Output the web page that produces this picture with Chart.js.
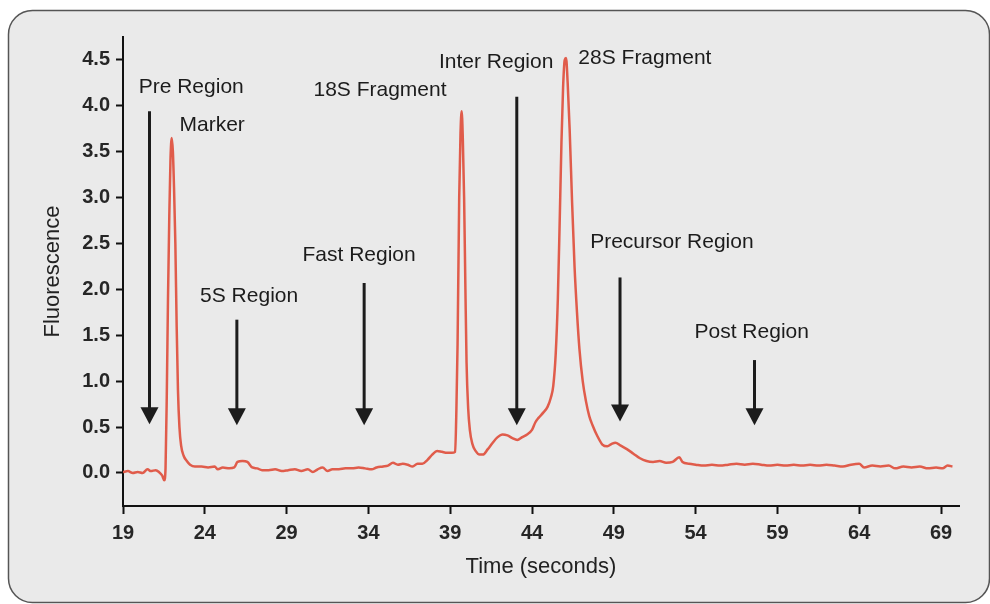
<!DOCTYPE html>
<html>
<head>
<meta charset="utf-8">
<script src="https://cdn.jsdelivr.net/npm/chart.js@4"></script>
<style>
  body { margin: 0; background: #fff; }
  canvas { display: block; }
</style>
</head>
<body>
<canvas id="trace" width="990" height="604"></canvas>
<script>
// electropherogram trace
const times = [
  19.0, 19.3, 19.6, 19.9, 20.2, 20.5, 20.7, 21.0, 21.2, 21.4, 21.52, 21.6, 21.68, 21.75, 21.83, 21.9, 21.98,
  22.05, 22.12, 22.2, 22.28, 22.36, 22.45, 22.55, 22.7, 22.9, 23.1, 23.4, 23.8, 24.2, 24.6, 24.8, 25.1, 25.5,
  25.8, 26.0, 26.3, 26.6, 26.9, 27.2, 27.5, 27.9, 28.3, 28.7, 29.1, 29.5, 29.9, 30.3, 30.6, 30.9, 31.2, 31.5,
  31.8, 32.2, 32.6, 33.0, 33.4, 33.8, 34.2, 34.5, 34.9, 35.2, 35.5, 35.8, 36.1, 36.4, 36.7, 37.0, 37.3, 37.6,
  37.9, 38.2, 38.5, 38.8, 39.1, 39.3, 39.38, 39.45, 39.55, 39.63, 39.7, 39.77, 39.85, 39.93, 40.0, 40.1, 40.2,
  40.35, 40.55, 40.8, 41.0, 41.3, 41.6, 41.9, 42.2, 42.5, 42.8, 43.1, 43.4, 43.7, 44.0, 44.2, 44.4, 44.7, 44.95,
  45.15, 45.3, 45.45, 45.58, 45.7, 45.8, 45.9, 46.0, 46.08, 46.18, 46.3, 46.45, 46.6, 46.75, 46.9, 47.1, 47.3,
  47.5, 47.7, 48.0, 48.3, 48.6, 48.9, 49.1, 49.4, 49.8, 50.2, 50.6, 51.0, 51.4, 51.8, 52.2, 52.6, 53.0, 53.2,
  53.6, 54.0, 54.5, 55.0, 55.5, 56.0, 56.5, 57.0, 57.5, 58.0, 58.5, 59.0, 59.5, 60.0, 60.5, 61.0, 61.5, 62.0,
  62.5, 63.0, 63.5, 64.0, 64.3, 64.8, 65.3, 65.8, 66.2, 66.7, 67.2, 67.7, 68.2, 68.7, 69.1, 69.4, 69.7
]
const fluorescence = [
  0.01, 0.02, 0.00, 0.01, 0.00, 0.04, 0.02, 0.03, 0.01, -0.03, -0.08, 0.05, 0.9, 1.9, 2.8, 3.4, 3.65,
  3.5, 3.1, 2.5, 1.6, 0.9, 0.5, 0.3, 0.19, 0.13, 0.09, 0.07, 0.07, 0.06, 0.07, 0.04, 0.06, 0.05,
  0.06, 0.12, 0.13, 0.12, 0.06, 0.05, 0.03, 0.03, 0.04, 0.02, 0.03, 0.04, 0.02, 0.04, 0.01, 0.04, 0.06, 0.02,
  0.04, 0.04, 0.05, 0.05, 0.06, 0.05, 0.04, 0.06, 0.07, 0.08, 0.11, 0.09, 0.10, 0.09, 0.07, 0.10, 0.10, 0.14,
  0.20, 0.24, 0.23, 0.22, 0.22, 0.23, 0.7, 1.4, 3.0, 3.7, 3.94, 3.65, 3.0, 2.0, 1.2, 0.7, 0.47,
  0.32, 0.24, 0.20, 0.20, 0.26, 0.33, 0.39, 0.42, 0.41, 0.38, 0.36, 0.39, 0.42, 0.47, 0.55, 0.60, 0.66, 0.72,
  0.82, 0.95, 1.3, 1.9, 2.8, 3.6, 4.2, 4.5, 4.52, 4.25, 3.75, 2.95, 2.25, 1.75, 1.35, 1.0, 0.78,
  0.62, 0.52, 0.40, 0.31, 0.29, 0.32, 0.33, 0.30, 0.26, 0.21, 0.16, 0.13, 0.12, 0.13, 0.11, 0.12, 0.17, 0.12,
  0.10, 0.09, 0.08, 0.09, 0.08, 0.09, 0.10, 0.09, 0.10, 0.09, 0.08, 0.09, 0.08, 0.09, 0.08, 0.09, 0.08, 0.09,
  0.08, 0.07, 0.09, 0.10, 0.06, 0.08, 0.07, 0.08, 0.05, 0.07, 0.06, 0.07, 0.05, 0.06, 0.05, 0.08, 0.07
]

const xTicks = [19, 24, 29, 34, 39, 44, 49, 54, 59, 64, 69]
const yTicks = [0, 0.5, 1, 1.5, 2, 2.5, 3, 3.5, 4, 4.5]

// text notes: label, x (seconds), y (fluorescence)
const noteText = ['Pre Region', 'Marker', '5S Region', 'Fast Region', '18S Fragment', 'Inter Region', '28S Fragment', 'Precursor Region', 'Post Region']
const noteX = [23.17, 24.45, 26.71, 33.43, 34.71, 41.81, 50.9, 52.55, 57.43]
const noteY = [4.20, 3.79, 1.93, 2.37, 4.17, 4.48, 4.52, 2.51, 1.53]

// arrows: x, top, tip
const arrowX = [20.62, 25.96, 33.74, 43.07, 49.38, 57.6]
const arrowTop = [3.94, 1.67, 2.07, 4.10, 2.13, 1.23]
const arrowTip = [0.53, 0.52, 0.52, 0.52, 0.56, 0.52]

const points = times.map((t, i) => ({ x: t, y: fluorescence[i] }))

Chart.defaults.font.family = "'Liberation Sans', Arial, sans-serif"
Chart.defaults.color = '#222'

const panel = {
  id: 'panel',
  beforeDraw(chart) {
    const ctx = chart.ctx
    ctx.save()
    ctx.fillStyle = '#fff'
    ctx.fillRect(0, 0, chart.width, chart.height)
    ctx.beginPath()
    ctx.roundRect(8.5, 10.5, 981, 592, 24)
    ctx.fillStyle = '#eaeaea'
    ctx.fill()
    ctx.lineWidth = 1.5
    ctx.strokeStyle = '#555'
    ctx.stroke()
    ctx.restore()
  }
}

const notes = {
  id: 'notes',
  afterDatasetsDraw(chart) {
    const ctx = chart.ctx
    const xs = chart.scales.x
    const ys = chart.scales.y
    ctx.save()
    ctx.fillStyle = '#1c1c1c'
    ctx.strokeStyle = '#1c1c1c'
    arrowX.forEach((x, i) => {
      const px = xs.getPixelForValue(x)
      const top = ys.getPixelForValue(arrowTop[i])
      const tip = ys.getPixelForValue(arrowTip[i])
      ctx.lineWidth = 3
      ctx.beginPath()
      ctx.moveTo(px, top)
      ctx.lineTo(px, tip - 14)
      ctx.stroke()
      ctx.beginPath()
      ctx.moveTo(px - 9, tip - 17)
      ctx.lineTo(px + 9, tip - 17)
      ctx.lineTo(px, tip)
      ctx.closePath()
      ctx.fill()
    })
    ctx.font = "21px 'Liberation Sans', Arial, sans-serif"
    ctx.textAlign = 'center'
    ctx.textBaseline = 'middle'
    noteText.forEach((txt, i) => {
      ctx.fillText(txt, xs.getPixelForValue(noteX[i]), ys.getPixelForValue(noteY[i]))
    })
    ctx.restore()
  }
}

new Chart(document.getElementById('trace'), {
  type: 'line',
  data: {
    datasets: [{
      label: 'Fluorescence',
      data: points,
      borderColor: '#e05c4b',
      borderWidth: 2.5,
      pointRadius: 0,
      cubicInterpolationMode: 'monotone',
      fill: false
    }]
  },
  options: {
    responsive: false,
    animation: false,
    layout: { padding: { top: 37, right: 31, left: 0, bottom: 0 } },
    plugins: {
      legend: { display: false },
      tooltip: { enabled: false }
    },
    scales: {
      x: {
        type: 'linear',
        min: 19,
        max: 70.1,
        afterFit: (scale) => { scale.height = 98 },
        afterBuildTicks: (scale) => { scale.ticks = xTicks.map(v => ({ value: v })) },
        border: { display: true, color: '#111', width: 2 },
        grid: { drawOnChartArea: false, drawTicks: true, tickLength: 8, tickWidth: 2, tickColor: '#111' },
        ticks: { autoSkip: false, maxRotation: 0, padding: 7, font: { size: 20, weight: 'bold' }, color: '#262626' },
        title: { display: true, text: 'Time (seconds)', font: { size: 22 }, color: '#222', padding: { bottom: 24 } }
      },
      y: {
        min: -0.36,
        max: 4.75,
        afterFit: (scale) => { scale.width = 123 },
        afterBuildTicks: (scale) => { scale.ticks = yTicks.map(v => ({ value: v })) },
        border: { display: true, color: '#111', width: 2 },
        grid: { drawOnChartArea: false, drawTicks: true, tickLength: 7, tickWidth: 2, tickColor: '#111' },
        ticks: { autoSkip: false, padding: 6, font: { size: 20, weight: 'bold' }, color: '#262626', callback: (v) => v.toFixed(1) },
        title: { display: true, text: 'Fluorescence', font: { size: 22 }, color: '#222', padding: { top: 40 } }
      }
    }
  },
  plugins: [panel, notes]
})
</script>
</body>
</html>
